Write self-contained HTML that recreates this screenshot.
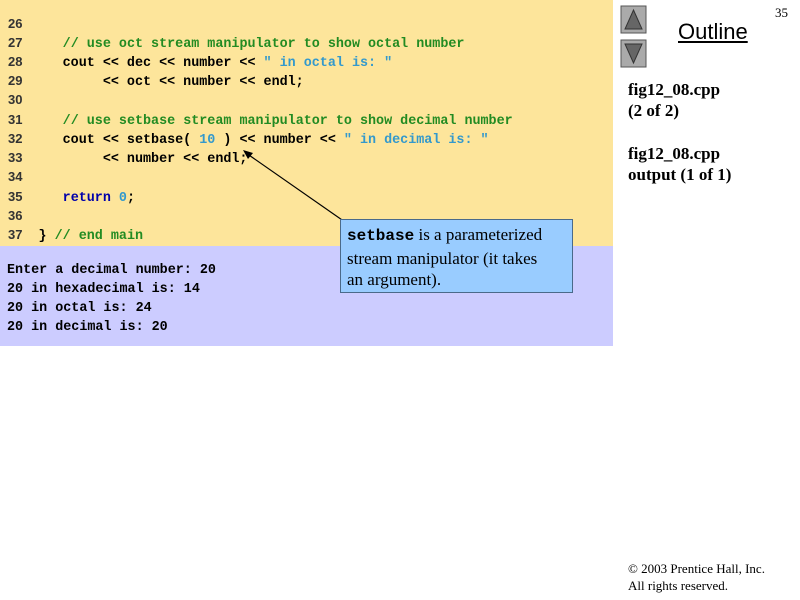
<!DOCTYPE html>
<html><head><style>
body{margin:0;width:800px;height:600px;background:#fff;position:relative;overflow:hidden;font-family:"Liberation Serif",serif}
.code{position:absolute;left:0;top:0;width:613px;height:246px;background:#fde59b}
.out{position:absolute;left:0;top:246px;width:613px;height:100px;background:#ccccff}
.l{position:absolute;font:bold 13.4px/1 "Liberation Mono",monospace;white-space:pre;color:#000}
.n{color:#333;font-family:"Liberation Sans",sans-serif;font-size:13px}
.c{color:#228b22}.s{color:#3399cc}.k{color:#0000aa}
.t{position:absolute;font-weight:bold;font-size:17px;line-height:21px;left:628px}
</style></head><body>
<div class="code"></div><div class="out"></div>
<div class="l n" style="left:8px;top:17px">26</div>
<div class="l" style="left:8px;top:36px"><span class="n">27</span>     <span class="c">// use oct stream manipulator to show octal number</span></div>
<div class="l" style="left:8px;top:55px"><span class="n">28</span>     cout &lt;&lt; dec &lt;&lt; number &lt;&lt; <span class="s">" in octal is: "</span></div>
<div class="l" style="left:8px;top:74px"><span class="n">29</span>          &lt;&lt; oct &lt;&lt; number &lt;&lt; endl;</div>
<div class="l n" style="left:8px;top:93px">30</div>
<div class="l" style="left:8px;top:113px"><span class="n">31</span>     <span class="c">// use setbase stream manipulator to show decimal number</span></div>
<div class="l" style="left:8px;top:132px"><span class="n">32</span>     cout &lt;&lt; setbase( <span class="s">10</span> ) &lt;&lt; number &lt;&lt; <span class="s">" in decimal is: "</span></div>
<div class="l" style="left:8px;top:151px"><span class="n">33</span>          &lt;&lt; number &lt;&lt; endl;</div>
<div class="l n" style="left:8px;top:170px">34</div>
<div class="l" style="left:8px;top:190px"><span class="n">35</span>     <span class="k">return</span> <span class="s">0</span>;</div>
<div class="l n" style="left:8px;top:209px">36</div>
<div class="l" style="left:8px;top:228px"><span class="n">37</span>  } <span class="c">// end main</span></div>
<div class="l" style="left:7px;top:264px">Enter a decimal number: 20</div>
<div class="l" style="left:7px;top:283px">20 in hexadecimal is: 14</div>
<div class="l" style="left:7px;top:302px">20 in octal is: 24</div>
<div class="l" style="left:7px;top:321px">20 in decimal is: 20</div>
<svg style="position:absolute;left:0;top:0" width="800" height="600">
<line x1="345" y1="222" x2="246" y2="153" stroke="#000" stroke-width="1.2"/>
<polygon points="243,150 253,153 248,159" fill="#000"/>
<rect x="621" y="6" width="25" height="27" fill="#aaa" stroke="#555"/>
<polygon points="633.5,10 642,29 625,29" fill="#666" stroke="#333"/>
<rect x="621" y="40" width="25" height="27" fill="#aaa" stroke="#555"/>
<polygon points="625,44 642,44 633.5,63" fill="#666" stroke="#333"/>
</svg>
<div style="position:absolute;left:340px;top:219px;width:233px;height:74px;background:#99ccff;border:1px solid #4a6a8a;box-sizing:border-box;padding:4px 18px 4px 6px;font-size:17px;line-height:21.5px"><b style="font-family:'Liberation Mono',monospace;font-size:16px">setbase</b> is a parameterized stream manipulator (it takes an argument).</div>
<div style="position:absolute;left:678px;top:19px;font:22px 'Liberation Sans',sans-serif;text-decoration:underline">Outline</div>
<div style="position:absolute;left:775px;top:5px;font-size:13px">35</div>
<div class="t" style="top:79px">fig12_08.cpp<br>(2 of 2)</div>
<div class="t" style="top:143px">fig12_08.cpp<br>output (1 of 1)</div>
<div style="position:absolute;left:628px;top:560px;font-size:13px;line-height:17px">© 2003 Prentice Hall, Inc.<br>All rights reserved.</div>
</body></html>
